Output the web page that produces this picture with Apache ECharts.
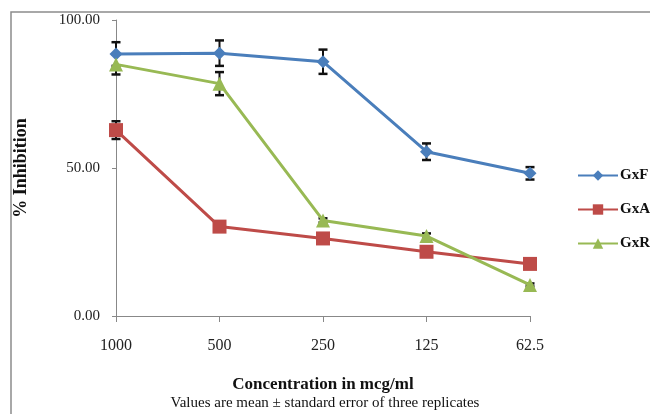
<!DOCTYPE html>
<html>
<head>
<meta charset="utf-8">
<script src="https://cdn.jsdelivr.net/npm/echarts@6/dist/echarts.min.js"></script>
<style>
  html, body { margin: 0; padding: 0; background: #fff; }
  #chart { width: 650px; height: 414px; }
</style>
</head>
<body>
<div id="chart"></div>
<script>
// Concentrations (mcg/ml) on the category axis
const concentrations = ['1000', '500', '250', '125', '62.5'];
// Mean % inhibition per extract
const gxfMean = [88.5, 88.8, 85.9, 55.5, 48.2];
const gxaMean = [62.8, 30.2, 26.2, 21.7, 17.6];
const gxrMean = [85.0, 78.5, 32.3, 27.0, 10.5];
// Standard error per point
const gxfErr = [4.0, 4.3, 4.1, 2.8, 2.1];
const gxaErr = [3.0, 0.0, 0.0, 0.0, 0.0];
const gxrErr = [3.4, 3.9, 0.7, 0.9, 0.5];
// Y-axis tick labels
const yTicks = [0, 50, 100];

const colors = { gxf: '#4a7ebb', gxa: '#be4b48', gxr: '#98b954' };
const serif = '"Liberation Serif", "DejaVu Serif", serif';

function errData(means, errs) {
  return means.map((m, i) => [i, m - errs[i], m + errs[i]]);
}

// Vertical whisker with caps, drawn beneath the line markers
function errorBars(name, means, errs) {
  return {
    type: 'custom',
    name: name + ' error',
    z: 1,
    silent: true,
    renderItem: function (params, api) {
      const x = api.value(0);
      const lo = api.coord([x, api.value(1)]);
      const hi = api.coord([x, api.value(2)]);
      if (Math.abs(hi[1] - lo[1]) < 0.5) return null;
      const w = 4.5;
      const capStyle = { stroke: '#111', lineWidth: 2.5 };
      return {
        type: 'group',
        children: [
          { type: 'line', shape: { x1: hi[0], y1: hi[1], x2: lo[0], y2: lo[1] }, style: { stroke: '#111', lineWidth: 2 } },
          { type: 'line', shape: { x1: hi[0] - w, y1: hi[1], x2: hi[0] + w, y2: hi[1] }, style: capStyle },
          { type: 'line', shape: { x1: lo[0] - w, y1: lo[1], x2: lo[0] + w, y2: lo[1] }, style: capStyle }
        ]
      };
    },
    encode: { x: 0, y: [1, 2] },
    data: errData(means, errs)
  };
}

const chart = echarts.init(document.getElementById('chart'), null, { renderer: 'canvas' });
chart.setOption({
  animation: false,
  backgroundColor: '#fff',
  graphic: [
    {
      type: 'rect',
      shape: { x: 11, y: 12, width: 660, height: 420 },
      style: { fill: 'none', stroke: '#8c8c8c', lineWidth: 1.5 },
      silent: true, z: -1
    },
    {
      type: 'text', left: 'center', top: 396,
      style: { text: 'Values are mean ± standard error of three replicates', font: '15px ' + serif, fill: '#111' }
    }
  ],
  legend: {
    orient: 'vertical',
    left: 572, top: 163,
    itemGap: 19,
    itemWidth: 40, itemHeight: 13,
    data: ['GxF', 'GxA', 'GxR'],
    textStyle: { fontFamily: serif, fontWeight: 'bold', fontSize: 15, color: '#111', padding: [0, 0, 0, -3] }
  },
  grid: { left: 116, right: 120, top: 20, bottom: 98 },
  xAxis: {
    type: 'category',
    data: concentrations,
    boundaryGap: false,
    name: 'Concentration in mcg/ml',
    nameLocation: 'middle',
    nameGap: 60,
    nameTextStyle: { fontFamily: serif, fontWeight: 'bold', fontSize: 17, color: '#111' },
    axisLine: { lineStyle: { color: '#888', width: 1 } },
    axisTick: { show: true, length: 6, inside: false, lineStyle: { color: '#888' } },
    axisLabel: { fontFamily: serif, fontSize: 16, color: '#222', margin: 22 },
    splitLine: { show: false }
  },
  yAxis: {
    type: 'value',
    min: yTicks[0], max: yTicks[yTicks.length - 1], interval: 50,
    name: '% Inhibition',
    nameLocation: 'middle',
    nameGap: 86,
    nameRotate: 90,
    nameTextStyle: { fontFamily: serif, fontWeight: 'bold', fontSize: 18, color: '#111' },
    axisLine: { show: true, lineStyle: { color: '#888', width: 1 } },
    axisTick: { show: true, length: 4, lineStyle: { color: '#888' } },
    axisLabel: { fontFamily: serif, fontSize: 15, color: '#222', margin: 16,
      formatter: v => v.toFixed(2) },
    splitLine: { show: false }
  },
  series: [
    {
      name: 'GxF', type: 'line', data: gxfMean, z: 3,
      symbol: 'diamond', symbolSize: 13,
      itemStyle: { color: colors.gxf },
      lineStyle: { color: colors.gxf, width: 3 }
    },
    {
      name: 'GxA', type: 'line', data: gxaMean, z: 3,
      symbol: 'rect', symbolSize: 14,
      itemStyle: { color: colors.gxa },
      lineStyle: { color: colors.gxa, width: 3 }
    },
    {
      name: 'GxR', type: 'line', data: gxrMean, z: 3,
      symbol: 'triangle', symbolSize: 14,
      itemStyle: { color: colors.gxr },
      lineStyle: { color: colors.gxr, width: 3 }
    },
    errorBars('GxF', gxfMean, gxfErr),
    errorBars('GxA', gxaMean, gxaErr),
    errorBars('GxR', gxrMean, gxrErr)
  ]
});
</script>
</body>
</html>
